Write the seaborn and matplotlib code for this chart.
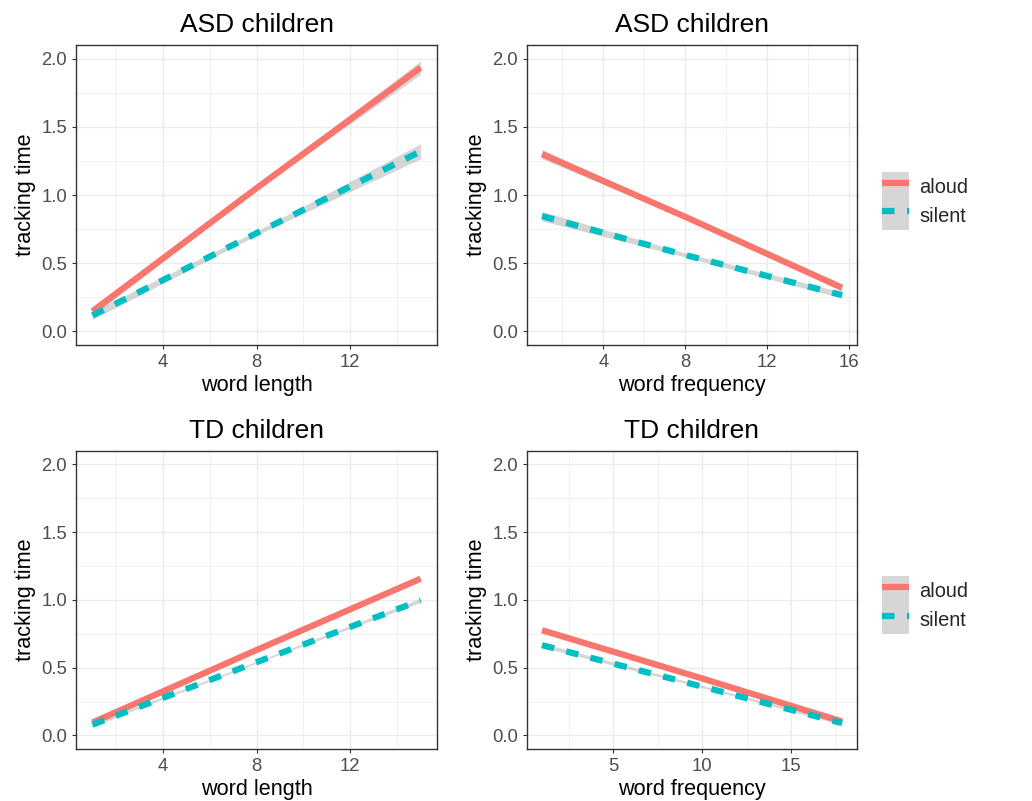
import numpy as np
import pandas as pd
import matplotlib
matplotlib.use('Agg')
import matplotlib.pyplot as plt
import seaborn as sns
from matplotlib.patches import Patch
from matplotlib.lines import Line2D
from matplotlib.ticker import FixedLocator

# ---------------- data ----------------
modes = ['aloud', 'silent']
titles = ['ASD children', 'ASD children', 'TD children', 'TD children']
xlabels = ['word length', 'word frequency', 'word length', 'word frequency']
ylabel = 'tracking time'

asd_len_x = [1, 8, 15]
asd_len_aloud = [0.147, 1.05, 1.934]
asd_len_silent = [0.117, 0.72, 1.32]
asd_len_aloud_se = [0.035, 0.012, 0.05]
asd_len_silent_se = [0.03, 0.015, 0.055]

asd_freq_x = [1, 8, 15.66]
asd_freq_aloud = [1.30, 0.84, 0.32]
asd_freq_silent = [0.845, 0.56, 0.266]
asd_freq_aloud_se = [0.035, 0.012, 0.025]
asd_freq_silent_se = [0.035, 0.015, 0.022]

td_len_x = [1, 8, 15]
td_len_aloud = [0.095, 0.63, 1.156]
td_len_silent = [0.079, 0.54, 0.996]
td_len_aloud_se = [0.01, 0.005, 0.012]
td_len_silent_se = [0.012, 0.006, 0.015]

td_freq_x = [1, 10, 17.85]
td_freq_aloud = [0.776, 0.42, 0.103]
td_freq_silent = [0.666, 0.36, 0.091]
td_freq_aloud_se = [0.012, 0.006, 0.01]
td_freq_silent_se = [0.015, 0.008, 0.012]

xticks_list = [[4, 8, 12], [4, 8, 12, 16], [4, 8, 12], [5, 10, 15]]
xminor_list = [[2, 6, 10, 14], [2, 6, 10, 14], [2, 6, 10, 14], [2.5, 7.5, 12.5, 17.5]]
yticks = [0.0, 0.5, 1.0, 1.5, 2.0]
yminor = [0.25, 0.75, 1.25, 1.75]

panels = [
    (asd_len_x, asd_len_aloud, asd_len_silent, asd_len_aloud_se, asd_len_silent_se),
    (asd_freq_x, asd_freq_aloud, asd_freq_silent, asd_freq_aloud_se, asd_freq_silent_se),
    (td_len_x, td_len_aloud, td_len_silent, td_len_aloud_se, td_len_silent_se),
    (td_freq_x, td_freq_aloud, td_freq_silent, td_freq_aloud_se, td_freq_silent_se),
]

# ---------------- style ----------------
sns.set_theme(style='white')
plt.rcParams['font.family'] = ['Liberation Sans', 'DejaVu Sans']
plt.rcParams['lines.solid_capstyle'] = 'butt'
plt.rcParams['lines.dash_capstyle'] = 'butt'

palette = {'aloud': '#F8766D', 'silent': '#00BFC4'}
dashes = {'aloud': '', 'silent': (2, 2)}
LW = 4.5
band_color = '#999999'
band_alpha = 0.4

W, H = 1032, 801
fig = plt.figure(figsize=(W / 100, H / 100), dpi=100)

def frac(l, t, r, b):
    return [l / W, 1 - b / H, (r - l) / W, (b - t) / H]

rects = [
    frac(76, 45, 437, 345),
    frac(527, 45, 857, 345),
    frac(76, 450.7, 437, 749),
    frac(527, 450.7, 857, 749),
]

for i, (rect, pdata) in enumerate(zip(rects, panels)):
    ax = fig.add_axes(rect)
    x, ya, ys, sa, ss = pdata
    rows = []
    for m, yv, sv in (('aloud', ya, sa), ('silent', ys, ss)):
        for xx, yy, se in zip(x, yv, sv):
            rows.append(dict(x=xx, y=yy, se=se, mode=m))
    df = pd.DataFrame(rows)
    for m in modes:
        sub = df[df['mode'] == m]
        ax.fill_between(sub['x'], sub['y'] - sub['se'], sub['y'] + sub['se'],
                        color=band_color, alpha=band_alpha, lw=0, zorder=2)
        sns.lineplot(data=sub, x='x', y='y', hue='mode', style='mode',
                     palette=palette, dashes=dashes, lw=LW, legend=False,
                     ax=ax, zorder=3, estimator=None, sort=True)
    xr = max(x) - min(x)
    ax.set_xlim(min(x) - 0.05 * xr, max(x) + 0.05 * xr)
    ax.set_ylim(-0.1, 2.1)
    ax.xaxis.set_major_locator(FixedLocator(xticks_list[i]))
    ax.xaxis.set_minor_locator(FixedLocator(xminor_list[i]))
    ax.yaxis.set_major_locator(FixedLocator(yticks))
    ax.yaxis.set_minor_locator(FixedLocator(yminor))
    ax.set_yticklabels([f'{v:.1f}' for v in yticks])
    ax.grid(True, which='major', color='#EBEBEB', lw=1.0, zorder=0)
    ax.grid(True, which='minor', color='#EBEBEB', lw=0.5, zorder=0)
    ax.set_axisbelow(True)
    for sp in ax.spines.values():
        sp.set_color('#333333')
        sp.set_linewidth(1.0)
    ax.tick_params(which='major', direction='out', length=3, width=0.8,
                   color='#333333', labelcolor='#4D4D4D', labelsize=13.3,
                   bottom=True, left=True, pad=3.5)
    ax.tick_params(which='minor', length=0)
    ax.set_xlabel(xlabels[i], fontsize=15.6, color='black', labelpad=3)
    ax.set_ylabel(ylabel, fontsize=15.6, color='black', labelpad=4)
    ax.set_title(titles[i], fontsize=19, color='black', pad=9.5)

# ---------------- legends ----------------
def make_handles():
    hs = []
    for m in modes:
        p = Patch(facecolor=band_color, alpha=band_alpha, edgecolor='none', lw=0)
        ls = '-' if m == 'aloud' else (0, (2, 2))
        l = Line2D([], [], color=palette[m], lw=LW, linestyle=ls,
                   solid_capstyle='butt', dash_capstyle='butt')
        hs.append((p, l))
    return hs

for yc in (201, 605.3):
    fig.legend(make_handles(), modes, loc='center left',
               bbox_to_anchor=(882 / W, 1 - yc / H), frameon=False,
               borderpad=0, borderaxespad=0, handlelength=1.35,
               handleheight=1.85, labelspacing=0, handletextpad=0.5,
               fontsize=14.4)

fig.savefig('out.png', dpi=100)
